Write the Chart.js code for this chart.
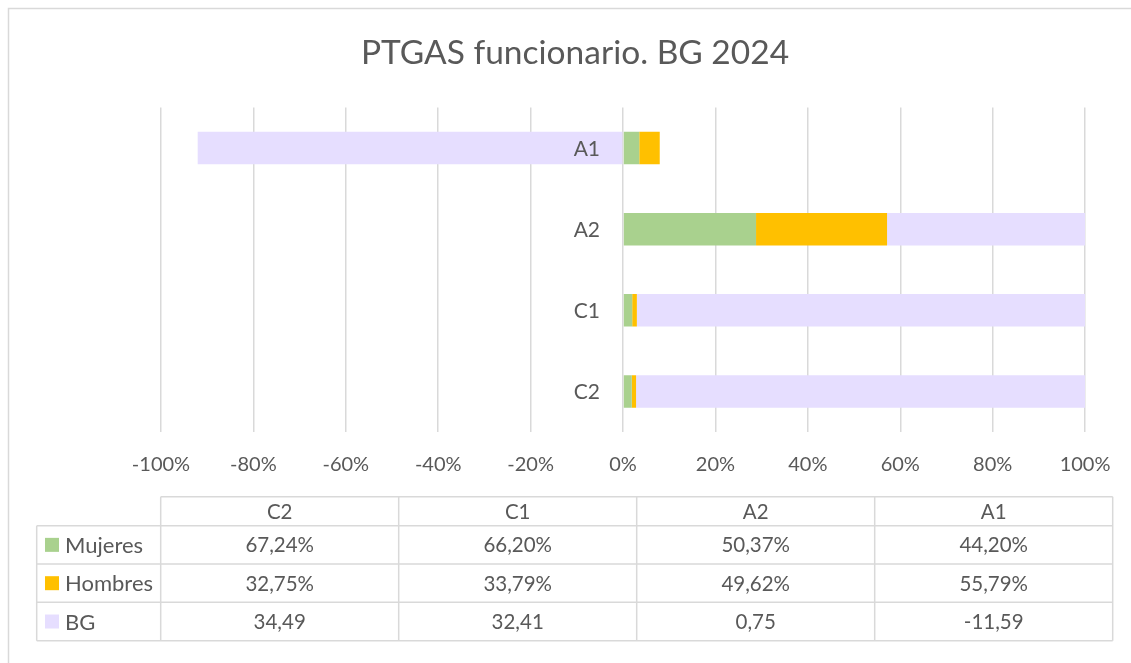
<!DOCTYPE html>
<html>
<head>
<meta charset="utf-8">
<script src="https://cdn.jsdelivr.net/npm/chart.js@4.4.1/dist/chart.umd.min.js"></script>
<style>
  html, body { margin: 0; padding: 0; background: #ffffff; }
  #wrap { width: 1131px; height: 663px; position: relative; }
</style>
</head>
<body>
<div id="wrap"><canvas id="c" width="1131" height="663"></canvas></div>
<script>
// ---- Data (as shown in the chart's data table) ----
const categories = ['C2', 'C1', 'A2', 'A1'];
const mujeresPct = [67.24, 66.20, 50.37, 44.20];   // shown as %
const hombresPct = [32.75, 33.79, 49.62, 55.79];   // shown as %
const bgValues   = [34.49, 32.41, 0.75, -11.59];   // plain numbers
const seriesNames = ['Mujeres', 'Hombres', 'BG'];
const seriesColors = ['#A9D18E', '#FFC000', '#E6DEFF'];
const xTickValues = [-100, -80, -60, -40, -20, 0, 20, 40, 60, 80, 100];
const chartTitle = 'PTGAS funcionario. BG 2024';

// Underlying cell values (percent cells are fractions), then 100% stacking
// like a spreadsheet: share = value / sum of absolute values per category.
const raw = [
  mujeresPct.map(v => v / 100),
  hombresPct.map(v => v / 100),
  bgValues.slice()
];
const totals = categories.map((_, i) => raw.reduce((s, arr) => s + Math.abs(arr[i]), 0));
const shares = raw.map(arr => arr.map((v, i) => v / totals[i] * 100));

const FONT = 'Lato, "Liberation Sans", sans-serif';
const TXT = '#595959';
const GRID = '#D9D9D9';

function fmt(v, pct) {
  return v.toFixed(2).replace('.', ',') + (pct ? '%' : '');
}

const tablePlugin = {
  id: 'dataTable',
  beforeDraw(chart) {
    const ctx = chart.ctx;
    ctx.save();
    ctx.fillStyle = '#ffffff';
    ctx.fillRect(0, 0, chart.width, chart.height);
    ctx.strokeStyle = GRID;
    ctx.lineWidth = 1.5;
    ctx.strokeRect(8.5, 8.5, chart.width + 20, chart.height + 20);
    // title
    ctx.fillStyle = TXT;
    ctx.font = '33.5px ' + FONT;
    ctx.textAlign = 'center';
    ctx.textBaseline = 'middle';
    ctx.fillText(chartTitle, 575, 53);
    ctx.restore();
  },
  afterDatasetsDraw(chart) {
    // category labels drawn on top of the bars, left of the 0 line
    const ctx = chart.ctx;
    const xs = chart.scales.x, ys = chart.scales.y;
    const x0 = xs.getPixelForValue(0);
    ctx.save();
    ctx.fillStyle = TXT;
    ctx.font = '21px ' + FONT;
    ctx.textAlign = 'right';
    ctx.textBaseline = 'middle';
    categories.forEach((cat, i) => {
      ctx.fillText(cat, x0 - 23, ys.getPixelForValue(i) + 1);
    });
    ctx.restore();
  },
  afterDraw(chart) {
    const ctx = chart.ctx;
    const legendLeft = 36.7;
    const colLeft = 160.7;
    const colW = 238;
    const headTop = 496.7;
    const headBottom = 525.7;
    const rowH = 38.33;
    const nCols = categories.length;
    const right = colLeft + colW * nCols;
    const bottom = headBottom + rowH * 3;
    ctx.save();
    ctx.strokeStyle = GRID;
    ctx.lineWidth = 1.5;
    ctx.beginPath();
    ctx.moveTo(colLeft, headTop); ctx.lineTo(right, headTop);
    for (let r = 0; r <= 3; r++) {
      const y = headBottom + rowH * r;
      ctx.moveTo(legendLeft, y); ctx.lineTo(right, y);
    }
    ctx.moveTo(legendLeft, headBottom); ctx.lineTo(legendLeft, bottom);
    for (let c = 0; c <= nCols; c++) {
      const x = colLeft + colW * c;
      ctx.moveTo(x, headTop); ctx.lineTo(x, bottom);
    }
    ctx.stroke();

    ctx.fillStyle = TXT;
    ctx.font = '20.5px ' + FONT;
    ctx.textBaseline = 'middle';
    ctx.textAlign = 'center';
    categories.forEach((cat, c) => {
      ctx.fillText(cat, colLeft + colW * (c + 0.5), (headTop + headBottom) / 2 + 1);
    });
    const rows = [
      mujeresPct.map(v => fmt(v, true)),
      hombresPct.map(v => fmt(v, true)),
      bgValues.map(v => fmt(v, false))
    ];
    rows.forEach((vals, r) => {
      const yc = headBottom + rowH * (r + 0.5) + 1;
      ctx.font = '20.5px ' + FONT;
      vals.forEach((t, c) => {
        ctx.textAlign = 'center';
        ctx.fillStyle = TXT;
        ctx.fillText(t, colLeft + colW * (c + 0.5), yc);
      });
      ctx.fillStyle = seriesColors[r];
      ctx.fillRect(45, yc - 8, 14, 14);
      ctx.fillStyle = TXT;
      ctx.textAlign = 'left';
      ctx.font = '22px ' + FONT;
      ctx.fillText(seriesNames[r], 65, yc);
    });
    ctx.restore();
  }
};

new Chart(document.getElementById('c'), {
  type: 'bar',
  data: {
    labels: categories,
    datasets: seriesNames.map((name, k) => ({
      label: name,
      data: shares[k],
      backgroundColor: seriesColors[k],
      borderWidth: 0,
      categoryPercentage: 1.0,
      barPercentage: 0.4
    }))
  },
  options: {
    indexAxis: 'y',
    responsive: false,
    animation: false,
    layout: { padding: { left: 161, right: 45, top: 107.5, bottom: 166 } },
    plugins: {
      legend: { display: false },
      tooltip: { enabled: false },
      title: { display: false }
    },
    scales: {
      x: {
        stacked: true,
        min: -100,
        max: 100,
        afterBuildTicks(scale) { scale.ticks = xTickValues.map(v => ({ value: v })); },
        grid: { color: GRID, lineWidth: 1.5, drawTicks: false },
        border: { display: false },
        ticks: {
          color: TXT,
          font: { family: FONT, size: 20 },
          padding: 20.5,
          callback: v => v + '%'
        }
      },
      y: {
        stacked: true,
        reverse: true,
        position: { x: 0 },
        grid: { display: false, drawTicks: false },
        border: { display: false },
        ticks: { display: false }
      }
    }
  },
  plugins: [tablePlugin]
});
</script>
</body>
</html>
